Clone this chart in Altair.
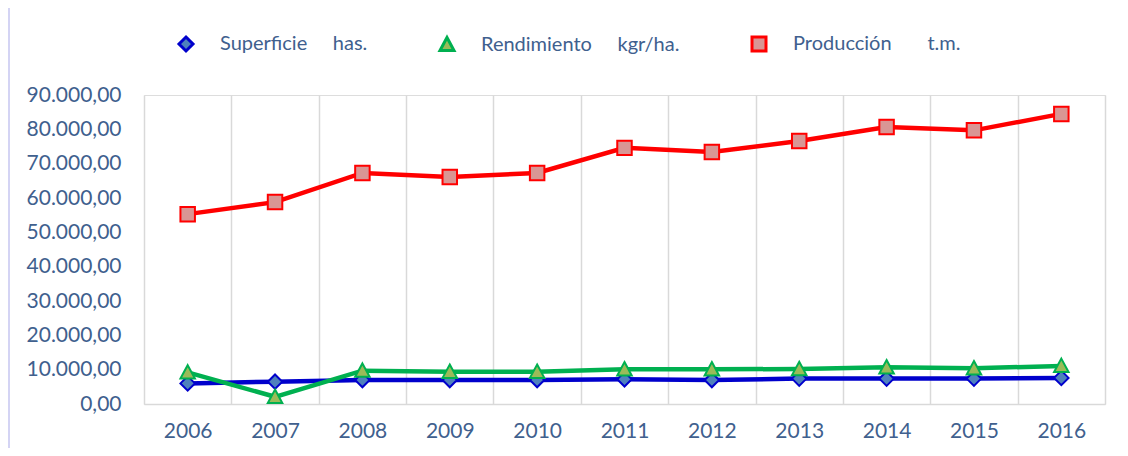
import altair as alt
import pandas as pd

years = [str(y) for y in range(2006, 2017)]
superficie = [6000, 6500, 7000, 7000, 7000, 7200, 7000, 7400, 7400, 7400, 7600]
rendimiento = [9200, 2100, 9700, 9400, 9400, 10100, 10100, 10200, 10700, 10400, 11100]
produccion = [55300, 58800, 67300, 66100, 67300, 74600, 73400, 76600, 80700, 79700, 84500]

NB = "\u00a0"
series_names = [
    "Superficie" + NB * 5 + "has.",
    "Rendimiento" + NB * 5 + "kgr/ha.",
    "Producción" + NB * 7 + "t.m.",
]
line_colors = ["#0000CC", "#00B050", "#FF0000"]
fill_colors = ["#4F81BD", "#9BBB59", "#D99694"]
shape_paths = ["M0,-1L1,0L0,1L-1,0Z", "M0,-1L1,0.85L-1,0.85Z", "M-1,-1H1V1H-1Z"]
legend_paths = [
    "M-3.93,0H-1M1,0H3.93M0,-1L1,0L0,1L-1,0Z",
    "M-3.93,0.3H-0.7M0.7,0.3H3.93M0,-1L1,0.85L-1,0.85Z",
    "M-3.93,0H-1M1,0H3.93M-1,-1H1V1H-1Z",
]

TEXT = "#40608E"
FONT = "Lato"

rows = []
for name, vals in zip(series_names, [superficie, rendimiento, produccion]):
    for yr, v in zip(years, vals):
        rows.append({"year": yr, "value": v, "series": name, "marker": name})
df = pd.DataFrame(rows)

shape_signal = (
    f"datum.value === '{series_names[0]}' ? '{legend_paths[0]}' : "
    f"(datum.value === '{series_names[1]}' ? '{legend_paths[1]}' : '{legend_paths[2]}')"
)

legend = alt.Legend(
    title=None,
    orient="none",
    legendX=13,
    legendY=-61,
    direction="horizontal",
    columnPadding=50,
    symbolSize=196,
    symbolOffset=19,
    labelOffset=24,
    symbolType=alt.ExprRef(expr=shape_signal),
    symbolStrokeWidth=3,
    labelFont=FONT,
    labelFontSize=20,
    labelColor=TEXT,
    labelLimit=400,
    padding=0,
)

x_enc = alt.X(
    "year:O",
    bandPosition=0.5,
    scale=alt.Scale(type="band", paddingInner=0, paddingOuter=0),
    axis=alt.Axis(
        title=None,
        labelAngle=0,
        tickBand="extent",
        grid=True,
        gridColor="#D9D9D9",
        gridWidth=1.5,
        domainColor="#D9D9D9",
        domainWidth=1.5,
        ticks=False,
        labelFont=FONT,
        labelFontSize=21,
        labelColor=TEXT,
        labelPadding=16,
    ),
)

y_enc = alt.Y(
    "value:Q",
    scale=alt.Scale(domain=[0, 90000], nice=False),
    axis=alt.Axis(
        title=None,
        values=list(range(0, 90001, 10000)),
        grid=False,
        domain=False,
        ticks=False,
        labelFont=FONT,
        labelFontSize=21,
        labelColor=TEXT,
        labelPadding=23,
        labelExpr="replace(replace(replace(format(datum.value, ',.2f'), ',', '#'), '.', ','), '#', '.')",
    ),
)

base = alt.Chart(df)

lines = base.mark_line(strokeWidth=4.5).encode(
    x=x_enc,
    y=y_enc,
    color=alt.Color(
        "series:N",
        scale=alt.Scale(domain=series_names, range=line_colors),
        legend=legend,
    ),
)

points = base.mark_point(filled=True, size=210, strokeWidth=2, opacity=1).encode(
    x=x_enc,
    y=y_enc,
    shape=alt.Shape(
        "marker:N", scale=alt.Scale(domain=series_names, range=shape_paths), legend=None
    ),
    fill=alt.Fill(
        "series:N", scale=alt.Scale(domain=series_names, range=fill_colors), legend=None
    ),
    stroke=alt.Stroke(
        "series:N", scale=alt.Scale(domain=series_names, range=line_colors), legend=None
    ),
)

border = alt.Chart(pd.DataFrame({"b": [0]})).mark_rule(
    color="#D4D4F4", strokeWidth=2
).encode(x=alt.value(-135), y=alt.value(-95), y2=alt.value(361))

chart = (
    alt.layer(lines, points, border)
    .properties(
        width=961,
        height=309,
        padding={"left": 136, "top": 87, "right": 15, "bottom": 44},
        autosize=alt.AutoSizeParams(type="none"),
    )
    .configure_view(stroke=None)
    .configure(background="white")
)

chart.save("out.html", embed_options={"renderer": "svg", "actions": False})
